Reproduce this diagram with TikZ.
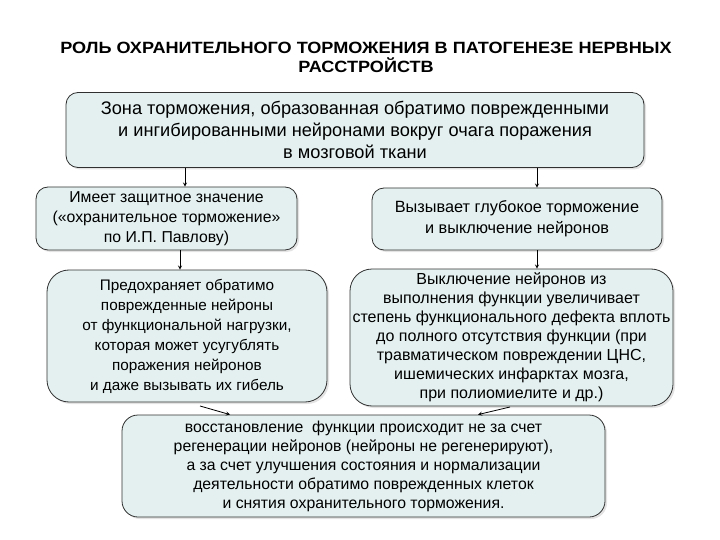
\documentclass[tikz,border=0pt]{standalone}
\usepackage{fontspec}
\setmainfont{Liberation Sans}
\newfontfamily\titlefont[FakeStretch=1.11]{Liberation Sans}
\usetikzlibrary{shadows}
\definecolor{boxfill}{HTML}{E4F0F0}
\definecolor{boxline}{HTML}{303030}
\tikzset{
  card/.style={draw=boxline, line width=0.8pt, fill=boxfill, rounded corners=12pt,
    align=center, inner sep=0pt,
    drop shadow={opacity=0.22, shadow xshift=2pt, shadow yshift=-2pt}},
  link/.style={->, >=stealth, line width=0.8pt, black}
}

\begin{document}
\begin{tikzpicture}[x=1pt, y=-1pt]
  \useasboundingbox (0,0) rectangle (720,540);
  \node[align=center, font=\titlefont\bfseries\fontsize{16.3}{19}\selectfont] (title) at (366,57)
    {РОЛЬ ОХРАНИТЕЛЬНОГО ТОРМОЖЕНИЯ В ПАТОГЕНЕЗЕ НЕРВНЫХ\\РАССТРОЙСТВ};
  % boxes
  \node[card, minimum width=578pt, minimum height=75pt, font=\fontsize{18.2}{22}\selectfont] (zone) at (355,130)
    {Зона торможения, образованная обратимо поврежденными\\
     и ингибированными нейронами вокруг очага поражения\\
     в мозговой ткани};
  \node[card, minimum width=261pt, minimum height=63pt, font=\fontsize{15.8}{20}\selectfont] (protect) at (166.5,218.5)
    {Имеет защитное значение\\
     («охранительное торможение»\\
     по И.П. Павлову)};
  \node[card, minimum width=290pt, minimum height=62pt, font=\fontsize{16.3}{21}\selectfont] (deep) at (517,219)
    {Вызывает глубокое торможение\\
     и выключение нейронов};
  \node[card, rounded corners=22pt, minimum width=280pt, minimum height=132pt, font=\fontsize{15.3}{20}\selectfont] (guard) at (187,336)
    {Предохраняет обратимо\\
     поврежденные нейроны\\
     от функциональной нагрузки,\\
     которая может усугублять\\
     поражения нейронов\\
     и даже вызывать их гибель};
  \node[card, rounded corners=22pt, minimum width=323pt, minimum height=137pt, font=\fontsize{16}{19}\selectfont] (defect) at (511.5,337.5)
    {Выключение нейронов из\\
     выполнения функции увеличивает\\
     степень функционального дефекта вплоть\\
     до полного отсутствия функции (при\\
     травматическом повреждении ЦНС,\\
     ишемических инфарктах мозга,\\
     при полиомиелите и др.)};
  \node[card, rounded corners=16pt, minimum width=483pt, minimum height=102pt, font=\fontsize{15.8}{19}\selectfont] (recover) at (363.5,466)
    {восстановление\ \ функции происходит не за счет\\
     регенерации нейронов (нейроны не регенерируют),\\
     а за счет улучшения состояния и нормализации\\
     деятельности обратимо поврежденных клеток\\
     и снятия охранительного торможения.};
  % connectors
  \draw[link] (zone.south -| 185,0) -- (protect.north -| 185,0);
  \draw[link] (zone.south -| 537,0) -- (deep.north -| 537,0);
  \draw[link] (protect.south -| 180,0) -- (guard.north -| 180,0);
  \draw[link] (deep.south -| 537,0) -- (defect.north -| 537,0);
  \coordinate (gfoot) at (200,406);
  \coordinate (dfoot) at (510,407);
  \draw[link] (gfoot) -- (recover.north -| 230,0);
  \draw[link] (dfoot) -- (recover.north -| 478,0);
\end{tikzpicture}
\end{document}
